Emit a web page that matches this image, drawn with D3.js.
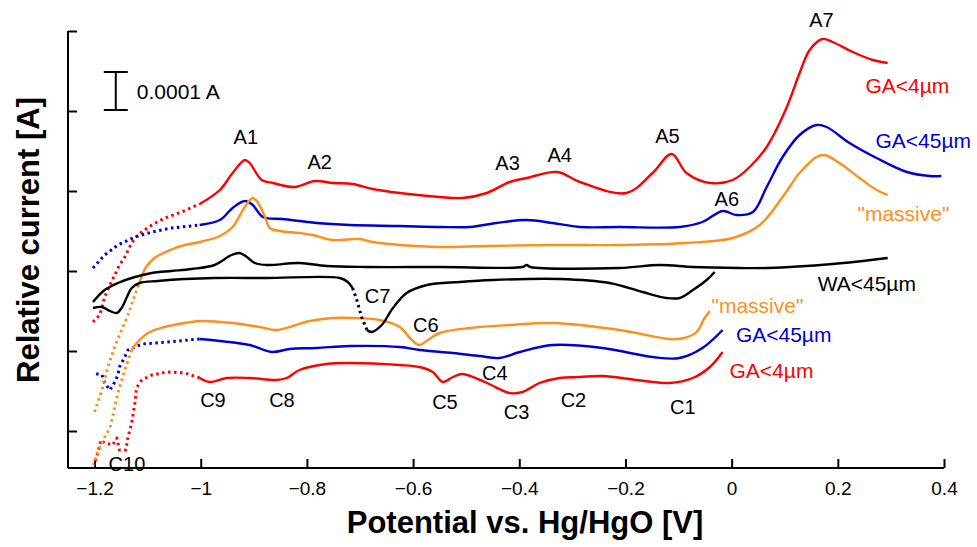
<!DOCTYPE html>
<html>
<head>
<meta charset="utf-8">
<script src="https://cdn.jsdelivr.net/npm/d3@7"></script>
<style>
  body { margin: 0; background: #fff; }
  svg { font-family: "Liberation Sans", Arial, sans-serif; }
</style>
</head>
<body>
<div id="chart"></div>
<script>
// potential [V] vs relative current (units of 1e-5 A, offset curves)
const redAnodic = [
  [-1.203, 27.25], [-1.190, 29], [-1.181, 33.5], [-1.171, 36.5], [-1.162, 39], [-1.153, 41.5],
  [-1.143, 43.5], [-1.130, 47], [-1.119, 49], [-1.092, 51.5], [-1.068, 53.25], [-1.036, 54.75],
  [-1.002, 56.75], [-0.964, 60.25], [-0.940, 64.5], [-0.917, 67.75], [-0.908, 67], [-0.885, 62.75],
  [-0.864, 62], [-0.823, 61], [-0.785, 62.5], [-0.751, 62], [-0.714, 61.75], [-0.676, 60.5],
  [-0.625, 59.5], [-0.550, 58.5], [-0.507, 58.25], [-0.461, 59.5], [-0.418, 62.25], [-0.386, 63.25],
  [-0.328, 64.75], [-0.286, 62.25], [-0.198, 59.5], [-0.149, 64.5], [-0.113, 69.25], [-0.085, 64.5],
  [-0.041, 62], [0.002, 62.75], [0.034, 66], [0.066, 71], [0.104, 81], [0.128, 89.5],
  [0.147, 95.25], [0.171, 98], [0.190, 97.25], [0.228, 94.75], [0.266, 92.75], [0.294, 92]
];
const redCathodic = [
  [-0.017, 19.75], [-0.041, 16], [-0.073, 13.25], [-0.117, 12], [-0.179, 12.75], [-0.243, 13.75],
  [-0.286, 13.5], [-0.324, 13.25], [-0.362, 12], [-0.394, 9.75], [-0.418, 9.5], [-0.461, 12],
  [-0.507, 14.25], [-0.525, 13.5], [-0.544, 12.25], [-0.563, 14.75], [-0.588, 16], [-0.625, 16.5],
  [-0.719, 17], [-0.763, 16.75], [-0.814, 15.25], [-0.838, 13.25], [-0.857, 12.75], [-0.908, 13.25],
  [-0.951, 13.25], [-0.983, 12.25], [-1.002, 13.25], [-1.030, 14.5], [-1.062, 14.75], [-1.092, 14],
  [-1.111, 12.75], [-1.121, 10.75], [-1.124, 7], [-1.130, 2], [-1.137, -1.5], [-1.141, -4.75],
  [-1.153, -4.75], [-1.158, -1.75], [-1.166, -3.5], [-1.181, -3], [-1.188, -2.25], [-1.194, -5.5],
  [-1.200, -8]
];
const blueAnodic = [
  [-1.203, 40.75], [-1.181, 44], [-1.156, 46.5], [-1.124, 48.5], [-1.092, 49.75], [-1.055, 50.75],
  [-1.002, 51.5], [-0.964, 52.75], [-0.940, 55.75], [-0.917, 57.5], [-0.902, 56.5], [-0.883, 53.5],
  [-0.846, 53], [-0.782, 52], [-0.719, 51.5], [-0.625, 51.25], [-0.550, 51], [-0.493, 51],
  [-0.443, 52], [-0.386, 52.75], [-0.337, 52], [-0.286, 51], [-0.211, 51], [-0.098, 51],
  [-0.055, 52.25], [-0.017, 55], [0.009, 54], [0.040, 54.75], [0.066, 61], [0.096, 68.5],
  [0.128, 74], [0.160, 76.5], [0.179, 76], [0.222, 72], [0.273, 68.25], [0.330, 64.75],
  [0.373, 63.75], [0.395, 63.75]
];
const blueCathodic = [
  [-0.017, 25.25], [-0.055, 20.75], [-0.098, 18.25], [-0.149, 18.5], [-0.243, 20.75], [-0.337, 21.5],
  [-0.399, 19.75], [-0.437, 18.25], [-0.475, 18.75], [-0.525, 19.5], [-0.588, 20.25], [-0.625, 21],
  [-0.719, 21.25], [-0.782, 20.75], [-0.832, 20.5], [-0.866, 19.75], [-0.908, 21.5], [-0.964, 22.5],
  [-1.002, 23], [-1.062, 22.25], [-1.111, 21.75], [-1.137, 20.25], [-1.143, 18.5], [-1.153, 16],
  [-1.156, 14], [-1.162, 12.25], [-1.171, 10.25], [-1.181, 12], [-1.186, 14], [-1.203, 14.5]
];
const orangeAnodic = [
  [-1.200, 4.75], [-1.186, 10.25], [-1.175, 16], [-1.162, 21], [-1.149, 25.25], [-1.137, 29],
  [-1.126, 33.25], [-1.115, 37.25], [-1.104, 40.75], [-1.087, 43.25], [-1.058, 45.25], [-1.030, 46.5],
  [-1.002, 47.25], [-0.964, 48.75], [-0.940, 51], [-0.917, 56], [-0.902, 58.25], [-0.893, 57.25],
  [-0.879, 53.5], [-0.870, 50.75], [-0.851, 50], [-0.814, 49.5], [-0.789, 49], [-0.751, 47.75],
  [-0.701, 48], [-0.676, 47.25], [-0.625, 46.5], [-0.550, 46], [-0.461, 46.25], [-0.337, 46.5],
  [-0.211, 46.5], [-0.085, 47], [0.002, 48.25], [0.053, 51.5], [0.096, 58.5], [0.128, 64.5],
  [0.160, 68.5], [0.175, 69], [0.203, 67], [0.241, 63.25], [0.273, 60.25], [0.294, 59]
];
const orangeCathodic = [
  [-0.041, 30], [-0.051, 28.25], [-0.066, 24.75], [-0.089, 23.25], [-0.117, 23], [-0.211, 25.25],
  [-0.337, 27], [-0.418, 26.5], [-0.493, 25.75], [-0.550, 24.5], [-0.572, 22.75], [-0.589, 21.5],
  [-0.606, 23.25], [-0.625, 26], [-0.663, 27.75], [-0.714, 28.25], [-0.751, 28.25], [-0.795, 27.5],
  [-0.857, 25.25], [-0.889, 26], [-0.940, 27], [-1.002, 27.5], [-1.030, 27], [-1.068, 26],
  [-1.096, 24.75], [-1.119, 22.25], [-1.130, 20.25], [-1.143, 15.25], [-1.156, 9.5], [-1.166, 3.5],
  [-1.171, 0.75], [-1.181, -1.5], [-1.190, -4], [-1.203, -8.5]
];
const blackAnodic = [
  [-1.203, 32.25], [-1.181, 35.25], [-1.156, 37], [-1.124, 38.5], [-1.092, 39.5], [-1.055, 40],
  [-1.017, 40.5], [-0.974, 41.5], [-0.942, 44], [-0.927, 44.5], [-0.913, 43.5], [-0.898, 42],
  [-0.876, 41.5], [-0.814, 42], [-0.763, 41.25], [-0.687, 41], [-0.550, 41], [-0.394, 41],
  [-0.386, 41.5], [-0.379, 41], [-0.211, 40.75], [-0.136, 41.5], [-0.073, 41], [0.015, 40.75],
  [0.066, 40.75], [0.190, 41.75], [0.294, 43.25]
];
const blackCathodic = [
  [-0.032, 39.75], [-0.047, 37.75], [-0.073, 35.25], [-0.098, 33.25], [-0.122, 33.25], [-0.168, 34.75],
  [-0.230, 37], [-0.324, 38], [-0.450, 37.75], [-0.512, 37.25], [-0.574, 36.5], [-0.612, 34.5],
  [-0.638, 30.75], [-0.659, 26.5], [-0.678, 24.75], [-0.687, 25.25], [-0.697, 28.5], [-0.706, 32.75],
  [-0.714, 35.75], [-0.723, 37.25], [-0.738, 38.25], [-0.876, 38.25], [-0.974, 38.25], [-1.030, 38],
  [-1.081, 37.5], [-1.115, 37], [-1.130, 35.75], [-1.139, 33.5], [-1.149, 30.75], [-1.158, 29.5],
  [-1.171, 30], [-1.186, 31], [-1.203, 30.75]
];

const xTicks = [-1.2, -1, -0.8, -0.6, -0.4, -0.2, 0, 0.2, 0.4];
const yTicks = [0, 20, 40, 60, 80, 100];

// peak labels: text, potential, current
const peakLabels = [
  ["A1", -0.915, 73.5], ["A2", -0.776, 67.25], ["A3", -0.422, 67], ["A4", -0.324, 69],
  ["A5", -0.121, 73.75], ["A6", -0.009, 58], ["A7", 0.169, 102.75],
  ["C1", -0.092, 6], ["C2", -0.298, 7.75], ["C3", -0.405, 4.75], ["C4", -0.446, 14.5],
  ["C5", -0.540, 7.25], ["C6", -0.576, 26.5], ["C7", -0.667, 33.75], ["C8", -0.847, 7.75],
  ["C9", -0.977, 7.75], ["C10", -1.139, -8.25]
];
// sample labels: text, left potential, current, colour
const sampleLabels = [
  ["GA<4µm", 0.252, 86.5, "red"], ["GA<45µm", 0.271, 72.75, "blue"], ["\"massive\"", 0.237, 54.5, "orange"],
  ["WA<45µm", 0.162, 37, "black"], ["\"massive\"", -0.038, 31.5, "orange"],
  ["GA<45µm", 0.008, 24.25, "blue"], ["GA<4µm", -0.004, 15.25, "red"]
];

const colors = { red: "#ff0000", blue: "#0000d2", orange: "#ff8f1c", black: "#000000" };

const series = [
  { data: redAnodic, color: "red", dots: [[-1.3, -1.0]] },
  { data: redCathodic, color: "red", dots: [[-1.3, -1.0]] },
  { data: blueAnodic, color: "blue", dots: [[-1.3, -1.0]] },
  { data: blueCathodic, color: "blue", dots: [[-1.3, -1.0]] },
  { data: orangeAnodic, color: "orange", dots: [[-1.3, -1.11]] },
  { data: orangeCathodic, color: "orange", dots: [[-1.3, -1.125]] },
  { data: blackAnodic, color: "black", dots: [] },
  { data: blackCathodic, color: "black", dots: [[-0.716, -0.69]] }
];

const width = 977, height = 547;
const svg = d3.select("#chart").append("svg")
  .attr("width", width)
  .attr("height", height);

const x = d3.scaleLinear().domain([-1.25, 0.4]).range([68, 944]);
const y = d3.scaleLinear().domain([-9.25, 100]).range([468, 31]);

// axes (ticks pointing inside)
svg.append("g")
  .attr("transform", "translate(0,468)")
  .call(d3.axisBottom(x).tickValues(xTicks).tickSize(-9).tickPadding(14)
    .tickFormat(d => d3.format("")(+d.toFixed(1))))
  .call(g => g.select(".domain").attr("d", "M68,0H944").attr("stroke-width", 2))
  .call(g => g.selectAll(".tick line").attr("stroke-width", 2))
  .call(g => g.selectAll("text").attr("font-size", 19).attr("font-family", "Liberation Sans, Arial").attr("fill", "#000"));

svg.append("g")
  .attr("transform", "translate(68,0)")
  .call(d3.axisLeft(y).tickValues(yTicks).tickSize(-9).tickFormat(""))
  .call(g => g.select(".domain").attr("d", "M0,468V31").attr("stroke-width", 2))
  .call(g => g.selectAll(".tick line").attr("stroke-width", 2));

// split a curve into solid / dotted runs
function segments(pts, ranges) {
  const inDot = (a, b) => {
    const m = (a[0] + b[0]) / 2;
    return ranges.some(r => m >= r[0] && m <= r[1]);
  };
  const segs = [];
  let cur = null;
  for (let i = 1; i < pts.length; i++) {
    const d = inDot(pts[i - 1], pts[i]);
    if (!cur || cur.dot !== d) {
      cur = { dot: d, pts: [pts[i - 1]] };
      segs.push(cur);
    }
    cur.pts.push(pts[i]);
  }
  return segs;
}

const smooth = d3.line().x(d => x(d[0])).y(d => y(d[1])).curve(d3.curveCatmullRom.alpha(0.5));
const straight = d3.line().x(d => x(d[0])).y(d => y(d[1]));

series.forEach(s => {
  segments(s.data, s.dots).forEach(seg => {
    svg.append("path")
      .attr("d", seg.dot ? straight(seg.pts) : smooth(seg.pts))
      .attr("fill", "none")
      .attr("stroke", colors[s.color])
      .attr("stroke-width", seg.dot ? 3 : 2.4)
      .attr("stroke-dasharray", seg.dot ? "2.5,3.5" : null)
      .attr("stroke-linejoin", "round");
  });
});

// peak labels
svg.append("g").selectAll("text")
  .data(peakLabels)
  .enter().append("text")
  .attr("x", d => x(d[1]))
  .attr("y", d => y(d[2]))
  .attr("text-anchor", "middle")
  .attr("dominant-baseline", "central")
  .attr("font-size", 20)
  .text(d => d[0]);

// sample labels
svg.append("g").selectAll("text")
  .data(sampleLabels)
  .enter().append("text")
  .attr("x", d => x(d[1]))
  .attr("y", d => y(d[2]))
  .attr("dominant-baseline", "central")
  .attr("font-size", 21)
  .attr("fill", d => colors[d[3]])
  .text(d => d[0]);

// scale bar 0.0001 A
const barX = x(-1.16), barTop = y(89.75), barBot = y(80.25);
const bar = svg.append("g").attr("stroke", "#000").attr("stroke-width", 2);
bar.append("line").attr("x1", barX).attr("x2", barX).attr("y1", barTop).attr("y2", barBot);
bar.append("line").attr("x1", barX - 12).attr("x2", barX + 12).attr("y1", barTop).attr("y2", barTop);
bar.append("line").attr("x1", barX - 12).attr("x2", barX + 12).attr("y1", barBot).attr("y2", barBot);
svg.append("text")
  .attr("x", barX + 21)
  .attr("y", (barTop + barBot) / 2)
  .attr("dominant-baseline", "central")
  .attr("font-size", 21)
  .text("0.0001 A");

// axis titles
svg.append("text")
  .attr("x", 525)
  .attr("y", 522)
  .attr("text-anchor", "middle")
  .attr("dominant-baseline", "central")
  .attr("font-size", 31)
  .attr("font-weight", "bold")
  .text("Potential vs. Hg/HgO [V]");

svg.append("text")
  .attr("transform", "translate(28,240) rotate(-90)")
  .attr("text-anchor", "middle")
  .attr("dominant-baseline", "central")
  .attr("font-size", 31)
  .attr("font-weight", "bold")
  .text("Relative current [A]");
</script>
</body>
</html>
